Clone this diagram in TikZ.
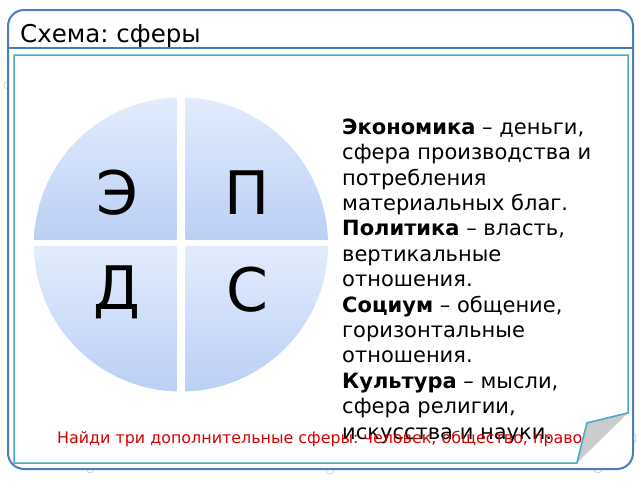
\documentclass[tikz,border=0pt]{standalone}
\usepackage{fontspec}
\setmainfont{DejaVu Sans}
\usepackage{tikz}
\definecolor{frameblue}{HTML}{4F7BBE}
\definecolor{innercyan}{HTML}{4BACC6}
\definecolor{sphtop}{HTML}{E2ECFC}
\definecolor{sphbot}{HTML}{BBCFF5}
\definecolor{taskred}{HTML}{D40000}
\definecolor{bubble}{HTML}{B9CDE0}
\frenchspacing

\begin{document}
\begin{tikzpicture}[x=1pt,y=-1pt,
   quarter/.style={top color=sphtop,bottom color=sphbot,draw=none},
   letter/.style={font=\fontsize{60}{60}\selectfont,inner sep=0pt},
   drop/.style={draw=bubble,fill=white,line width=0.6pt}]
   \useasboundingbox (0,0) rectangle (640,480);

   % faint drops behind the frame
   \draw[drop] (612,452) circle (11pt);
   \draw[drop] (628,438) circle (8pt);
   \draw[drop] (598,468) circle (5pt);
   \draw[drop] (330,470) circle (4pt);
   \draw[drop] (90,470) circle (3pt);
   \draw[drop] (425,18) circle (4pt);
   \draw[drop] (580,18) circle (4pt);
   \draw[drop] (8,85) circle (4pt);

   \draw[frameblue,line width=2pt,fill=white,rounded corners=16pt] (8,10) rectangle (633,469);
   \draw[frameblue,line width=1.5pt] (8,48) -- (633,48);
   \draw (20,42) node[anchor=base west,inner sep=0pt,font=\fontsize{24.5}{25}\selectfont] (title) {Схема: сферы};

   % inner sheet with its turned corner
   \draw[innercyan,line width=1.5pt,fill=white] (14,55) -- (628,55) -- (628,413) -- (587,423) -- (577,463) -- (14,463) -- cycle;
   \draw[fill=gray!40,draw=gray!20] (577,463) -- (587,423) -- (628,413) -- cycle;
   \draw[innercyan,line width=1.5pt] (628,413) -- (587,423) -- (577,463);

   % the four spheres
   \begin{scope}
     \clip (181,244.5) circle (147pt);
     \shade[quarter] (30,97) rectangle (176.5,239.5);
     \shade[quarter] (185.5,97) rectangle (335,239.5);
     \shade[quarter] (30,246.5) rectangle (176.5,392);
     \shade[quarter] (185.5,246.5) rectangle (335,392);
   \end{scope}

   \draw (117,193) node[letter] (letE) {Э};
   \draw (247,193) node[letter] (letP) {П};
   \draw (117,292) node[letter] (letD) {Д};
   \draw (247,290) node[letter] (letS) {С};

   \draw (342,439) node[anchor=base west,inner sep=0pt,align=left,
      font=\fontsize{21}{25.4}\selectfont] (desc)
      {\textbf{Экономика} – деньги,\\
       сфера производства и\\
       потребления\\
       материальных благ.\\
       \textbf{Политика} – власть,\\
       вертикальные\\
       отношения.\\
       \textbf{Социум} – общение,\\
       горизонтальные\\
       отношения.\\
       \textbf{Культура} – мысли,\\
       сфера религии,\\
       искусства и науки.};

   \draw (57,443) node[anchor=base west,inner sep=0pt,text=taskred,
      font=\fontsize{15.9}{16}\selectfont] (task)
      {Найди три дополнительные сферы: человек, общество, право};

\end{tikzpicture}
\end{document}
